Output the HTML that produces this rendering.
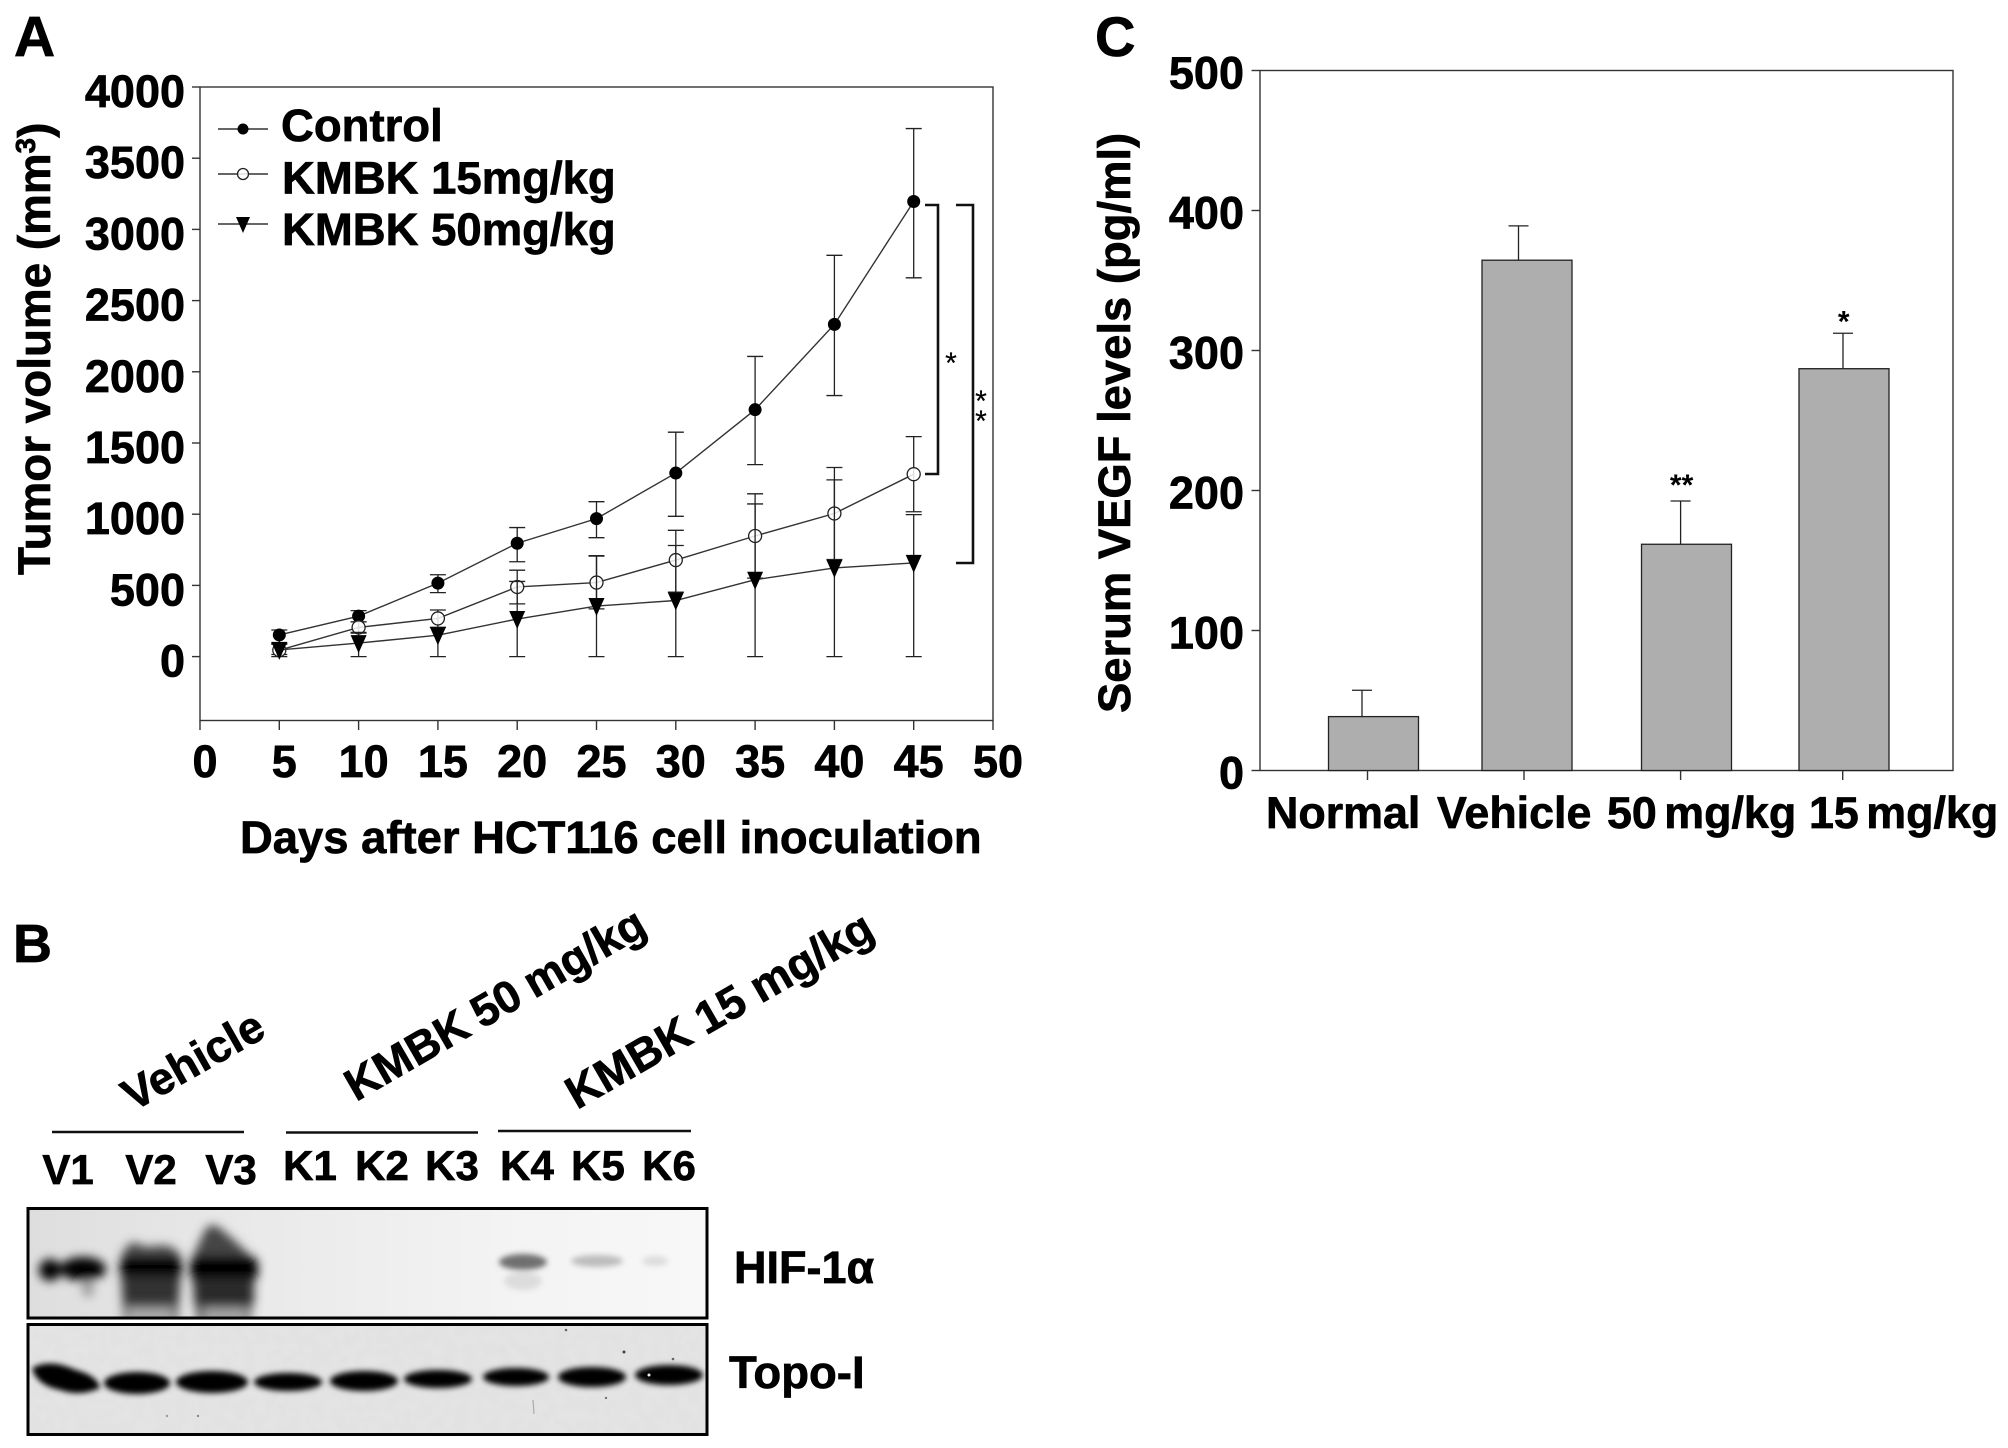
<!DOCTYPE html>
<html lang="en">
<head>
<meta charset="utf-8">
<title>Tumor volume, HIF-1α and serum VEGF</title>
<style>
html,body{margin:0;padding:0;background:#fff;}
body{width:2008px;height:1448px;overflow:hidden;}
svg{display:block;}
text{font-family:"Liberation Sans",sans-serif;font-weight:bold;fill:#000;stroke:#000;stroke-width:0.7;}
</style>
</head>
<body>
<svg id="fig" xmlns="http://www.w3.org/2000/svg" width="2008" height="1448" viewBox="0 0 2008 1448">
  <defs>
    <filter id="b3" x="-30%" y="-60%" width="160%" height="220%"><feGaussianBlur stdDeviation="3"/></filter>
    <filter id="b5" x="-30%" y="-50%" width="160%" height="200%"><feGaussianBlur stdDeviation="5"/></filter>
    <filter id="tex" x="0" y="0" width="100%" height="100%">
      <feTurbulence type="fractalNoise" baseFrequency="0.09" numOctaves="2" seed="4"/>
      <feColorMatrix values="0 0 0 0 0.5  0 0 0 0 0.5  0 0 0 0 0.5  0.6 0 0 0 -0.2"/>
    </filter>
    <linearGradient id="blot1bg" x1="0" x2="1" y1="0" y2="0">
      <stop offset="0" stop-color="#dedede"/><stop offset="0.35" stop-color="#eaeaea"/>
      <stop offset="0.7" stop-color="#f3f3f3"/><stop offset="1" stop-color="#f8f8f8"/>
    </linearGradient>
    <clipPath id="clip1"><rect x="29" y="1209" width="677" height="108"/></clipPath>
    <clipPath id="clip2"><rect x="29" y="1326" width="677" height="108"/></clipPath>
  </defs>

  <text x="14" y="56" font-size="57">A</text>
  <text x="13" y="962" font-size="54">B</text>
  <text x="1095" y="56" font-size="56">C</text>

  <g id="chartA"></g>
  <g id="chartC"></g>

  <g>
    <text transform="translate(133 1112) rotate(-29.5)" font-size="45">Vehicle</text>
    <text transform="translate(356 1102) rotate(-30)" font-size="45" word-spacing="-2">KMBK 50 mg/kg</text>
    <text transform="translate(577 1110) rotate(-30)" font-size="45.5">KMBK 15 mg/kg</text>
    <line x1="52" x2="244" y1="1132" y2="1132" stroke="#111" stroke-width="2.6"/>
    <line x1="286" x2="478" y1="1132.5" y2="1132.5" stroke="#111" stroke-width="2.6"/>
    <line x1="498" x2="691" y1="1131" y2="1131" stroke="#111" stroke-width="2.6"/>
    <g font-size="42" text-anchor="middle">
      <text x="68" y="1184">V1</text>
      <text x="151" y="1184">V2</text>
      <text x="231" y="1184">V3</text>
      <text x="310" y="1180">K1</text>
      <text x="382" y="1180">K2</text>
      <text x="452" y="1180">K3</text>
      <text x="527" y="1180">K4</text>
      <text x="598" y="1180">K5</text>
      <text x="669" y="1180">K6</text>
    </g>

    <g>
      <rect x="29" y="1209" width="677" height="108" fill="url(#blot1bg)"/>
      <g clip-path="url(#clip1)">
        <g filter="url(#b5)">
          <ellipse cx="50" cy="1270" rx="11" ry="11" fill="#000"/>
          <ellipse cx="83" cy="1269" rx="23" ry="12" fill="#000"/>
          <ellipse cx="88" cy="1289" rx="6" ry="8" fill="#999"/>
        </g>
        <g filter="url(#b5)">
          <path d="M124 1325 L120 1262 Q124 1244 135 1242 Q142 1248 155 1246 Q178 1242 182 1262 L177 1325 Z" fill="#4a4a4a"/>
          <rect x="127" y="1308" width="46" height="16" fill="#aaa"/>
          <rect x="120" y="1256" width="62" height="24" rx="8" fill="#000"/>
          <rect x="124" y="1276" width="54" height="26" fill="#303030"/>
        </g>
        <g filter="url(#b5)">
          <path d="M198 1325 L190 1262 Q196 1250 205 1230 Q212 1220 222 1230 Q242 1246 256 1262 L250 1325 Z" fill="#444"/>
          <rect x="203" y="1308" width="44" height="16" fill="#a4a4a4"/>
          <rect x="190" y="1256" width="68" height="26" rx="9" fill="#000"/>
          <rect x="194" y="1278" width="60" height="26" fill="#2a2a2a"/>
        </g>
        <g filter="url(#b3)">
          <ellipse cx="523" cy="1262" rx="24" ry="8" fill="#707070"/>
          <ellipse cx="523" cy="1281" rx="19" ry="9" fill="#dcdcdc"/>
        </g>
        <ellipse cx="597" cy="1261" rx="26" ry="6" fill="#bcbcbc" filter="url(#b3)"/>
        <ellipse cx="655" cy="1261" rx="13" ry="5" fill="#dcdcdc" filter="url(#b3)"/>
      </g>
      <rect x="28" y="1208.5" width="679" height="109.5" fill="none" stroke="#000" stroke-width="3"/>
    </g>

    <g>
      <rect x="29" y="1326" width="677" height="108" fill="#e4e4e4"/>
      <rect x="29" y="1326" width="677" height="108" filter="url(#tex)" opacity="0.25"/>
      <g clip-path="url(#clip2)" fill="#050505">
        <g filter="url(#b3)">
          <path d="M32 1368 Q50 1358 76 1370 Q98 1376 100 1388 Q80 1397 60 1390 Q36 1385 32 1368 Z"/>
          <ellipse cx="137" cy="1383" rx="33" ry="11"/>
          <ellipse cx="212" cy="1382" rx="36" ry="11"/>
          <ellipse cx="288" cy="1382" rx="34" ry="9"/>
          <ellipse cx="364" cy="1381" rx="34" ry="10"/>
          <ellipse cx="438" cy="1379" rx="34" ry="9"/>
          <ellipse cx="516" cy="1377" rx="33" ry="9"/>
          <ellipse cx="592" cy="1377" rx="34" ry="10"/>
          <ellipse cx="669" cy="1375" rx="34" ry="10"/>
        </g>
        <circle cx="649" cy="1375" r="1.5" fill="#eee"/>
        <circle cx="624" cy="1352" r="1.5" fill="#444"/>
        <circle cx="566" cy="1330" r="1.3" fill="#666"/>
        <circle cx="673" cy="1359" r="1.3" fill="#666"/>
        <circle cx="606" cy="1398" r="1.2" fill="#777"/>
        <circle cx="198" cy="1416" r="1.2" fill="#888"/>
        <circle cx="167" cy="1416" r="1.2" fill="#999"/>
        <line x1="533" y1="1400" x2="534" y2="1414" stroke="#aaa" stroke-width="1.2"/>
      </g>
      <rect x="28" y="1324.5" width="679" height="110" fill="none" stroke="#000" stroke-width="3"/>
    </g>
    <text x="734" y="1283" font-size="45">HIF-1α</text>
    <text x="729" y="1388" font-size="45.5">Topo-I</text>
  </g>
</svg>

<script>
// ---- Panel A data ----
const days = [5, 10, 15, 20, 25, 30, 35, 40, 45];
const controlValues = [152, 284, 516, 796, 969, 1289, 1734, 2333, 3196];
const controlUpper = [187, 323, 575, 906, 1088, 1576, 2108, 2818, 3708];
const controlLower = [96, 244, 449, 666, 835, 985, 1348, 1833, 2660];
const kmbk15Values = [45, 205, 268, 489, 520, 678, 847, 1005, 1281];
const kmbk15Upper = [90, 244, 327, 607, 709, 887, 1143, 1328, 1545];
const kmbk15Lower = [15, 165, 205, 370, 335, 453, 551, 682, 1017];
const kmbk50Values = [47, 95, 150, 264, 355, 394, 540, 623, 658];
const kmbk50Upper = [87, 170, 205, 528, 706, 780, 1072, 1241, 997];
const kmbk50Lower = [0, 0, 0, 0, 0, 0, 0, 0, 0];
const xTicksA = [0, 5, 10, 15, 20, 25, 30, 35, 40, 45, 50];
const yTicksA = [0, 500, 1000, 1500, 2000, 2500, 3000, 3500, 4000];
const legendLabels = ['Control', 'KMBK 15mg/kg', 'KMBK 50mg/kg'];

// ---- Panel C data ----
const groups = ['Normal', 'Vehicle', '50 mg/kg', '15 mg/kg'];
const vegfValues = [38.5, 364.5, 161.6, 287];
const vegfErrors = [57.3, 389, 192.5, 312.3];
const vegfStars = ['', '', '**', '*'];
const yTicksC = [0, 100, 200, 300, 400, 500];

const NS = 'http://www.w3.org/2000/svg';
function make(parent, tag, attrs, txt) {
  const n = document.createElementNS(NS, tag);
  for (const k in attrs) n.setAttribute(k, attrs[k]);
  if (txt !== undefined) n.textContent = txt;
  parent.appendChild(n);
  return n;
}

// ---- Panel A ----
const gA = document.getElementById('chartA');
const xA = v => 200 + v * 15.86;
const yA = v => 656.6 - v * 0.1424;
const INK = '#222';

const frameA = make(gA, 'rect', {x: 200, y: 87, width: 793, height: 633.5, fill: 'none', stroke: '#333', 'stroke-width': 1.4});



yTicksA.forEach(t => {
  const tick = make(gA, 'line', {x1: 192, x2: 200, y1: yA(t), y2: yA(t), stroke: '#333', 'stroke-width': 1.4});
  
  
  const lab = make(gA, 'text', {x: 185, y: yA(t) + 20, 'font-size': 45, 'text-anchor': 'end'}, String(t));
  
  
});
xTicksA.forEach(t => {
  const tick = make(gA, 'line', {x1: xA(t), x2: xA(t), y1: 720.5, y2: 730, stroke: '#333', 'stroke-width': 1.4});
  
  
  const lab = make(gA, 'text', {x: xA(t) + 5, y: 777, 'font-size': 45, 'text-anchor': 'middle'}, String(t));
  
  
});

const xTitleA = make(gA, 'text', {x: 240, y: 853, 'font-size': 45.4}, 'Days after HCT116 cell inoculation');



const yTitleA = make(gA, 'text', {transform: 'translate(50 575) rotate(-90)', 'font-size': 45.8}, 'Tumor volume (mm');


make(yTitleA, 'tspan', {dy: -15, 'font-size': 28}, '3');
make(yTitleA, 'tspan', {dy: 15}, ')');

function marker(parent, kind, cx, cy, size) {
  if (kind === 'filled') return make(parent, 'circle', {cx, cy, r: size, fill: '#000', stroke: 'none'});
  if (kind === 'open') return make(parent, 'circle', {cx, cy, r: size, fill: '#fff', 'fill-opacity': 0.85, stroke: '#222', 'stroke-width': 1.3});
  const s = size + 1.5;
  return make(parent, 'path', {d: `M${cx - s} ${cy - s} L${cx + s} ${cy - s} L${cx} ${cy + s + 2} Z`, fill: '#000'});
}

function drawSeries(name, kind, values, upper, lower) {
  const g = make(gA, 'g', {});
  
  
  days.forEach((d, i) => {
    const x = xA(d);
    const err = make(g, 'path', {
      d: `M${x} ${yA(upper[i])} V${yA(lower[i])} M${x - 8} ${yA(upper[i])} H${x + 8} M${x - 8} ${yA(lower[i])} H${x + 8}`,
      fill: 'none', stroke: INK, 'stroke-width': 1.3});
    
    
  });
  const line = make(g, 'polyline', {
    points: days.map((d, i) => xA(d) + ',' + yA(values[i])).join(' '),
    fill: 'none', stroke: '#333', 'stroke-width': 1.4});
  
  
  days.forEach((d, i) => {
    const m = marker(g, kind, xA(d), yA(values[i]), 6.5);
    
    
  });
}
drawSeries('series-control', 'filled', controlValues, controlUpper, controlLower);
drawSeries('series-kmbk-15', 'open', kmbk15Values, kmbk15Upper, kmbk15Lower);
drawSeries('series-kmbk-50', 'tri', kmbk50Values, kmbk50Upper, kmbk50Lower);

// significance brackets
const bracket1 = make(gA, 'path', {d: 'M925 205 H938 V474 H925', fill: 'none', stroke: '#111', 'stroke-width': 2.6});


const bracket2 = make(gA, 'path', {d: 'M956 205 H973 V563 H956', fill: 'none', stroke: '#111', 'stroke-width': 2.6});


const star1 = make(gA, 'text', {x: 951, y: 373, 'font-size': 30, 'text-anchor': 'middle', style: 'font-weight:normal;stroke-width:0.2'}, '*');


const star2 = make(gA, 'text', {x: 981, y: 411, 'font-size': 30, 'text-anchor': 'middle', style: 'font-weight:normal;stroke-width:0.2'}, '*');


const star3 = make(gA, 'text', {x: 981, y: 431, 'font-size': 30, 'text-anchor': 'middle', style: 'font-weight:normal;stroke-width:0.2'}, '*');



// legend
const legendKinds = ['filled', 'open', 'tri'];
const legendLineY = [129, 174, 224];
const legendTextX = [281, 282, 282];
const legendTextY = [141, 193.5, 245];
legendLabels.forEach((label, i) => {
  const g = make(gA, 'g', {});
  
  
  make(g, 'line', {x1: 218, x2: 268, y1: legendLineY[i], y2: legendLineY[i], stroke: '#333', 'stroke-width': 1.4});
  marker(g, legendKinds[i], 243, legendLineY[i], 5.5);
  make(g, 'text', {x: legendTextX[i], y: legendTextY[i], 'font-size': 45.5}, label);
});

// ---- Panel C ----
const gC = document.getElementById('chartC');
const yC = v => 770.5 - v * 1.4;
const barLeft = [1328.5, 1482, 1641.5, 1799];
const BAR_W = 90;
const errX = [1362, 1518.5, 1680.6, 1843];
const tickX = [1367.5, 1524, 1680.6, 1842.7];
const labelX = [1266, 1437, 1607, 1809];

const frameC = make(gC, 'rect', {x: 1260, y: 70.5, width: 693, height: 700, fill: 'none', stroke: '#333', 'stroke-width': 1.4});



yTicksC.forEach(t => {
  const tick = make(gC, 'line', {x1: 1251.5, x2: 1260, y1: yC(t), y2: yC(t), stroke: '#333', 'stroke-width': 1.4});
  
  
  const lab = make(gC, 'text', {x: 1244, y: yC(t) + 18, 'font-size': 45, 'text-anchor': 'end'}, String(t));
  
  
});

groups.forEach((name, i) => {
  const err = make(gC, 'path', {
    d: `M${errX[i]} ${yC(vegfValues[i])} V${yC(vegfErrors[i])} M${errX[i] - 10} ${yC(vegfErrors[i])} H${errX[i] + 10}`,
    fill: 'none', stroke: INK, 'stroke-width': 1.3});
  
  
  const bar = make(gC, 'rect', {x: barLeft[i], y: yC(vegfValues[i]), width: BAR_W, height: 770.5 - yC(vegfValues[i]), fill: '#aeaeae', stroke: '#222', 'stroke-width': 1.3});
  
  
  const tick = make(gC, 'line', {x1: tickX[i], x2: tickX[i], y1: 770.5, y2: 780, stroke: '#333', 'stroke-width': 1.4});
  
  
  const lab = make(gC, 'text', {x: labelX[i], y: 828, 'font-size': 44.8, 'word-spacing': -5}, name);
  
  
  if (vegfStars[i]) {
    const star = make(gC, 'text', {x: tickX[i] + 1, y: yC(vegfErrors[i]) - (vegfStars[i].length === 1 ? 2 : 6), 'font-size': 30, 'text-anchor': 'middle', style: 'stroke-width:0'}, vegfStars[i]);
    
    
  }
});

const yTitleC = make(gC, 'text', {transform: 'translate(1130 713) rotate(-90)', 'font-size': 45.4}, 'Serum VEGF levels (pg/ml)');


</script>
</body>
</html>
